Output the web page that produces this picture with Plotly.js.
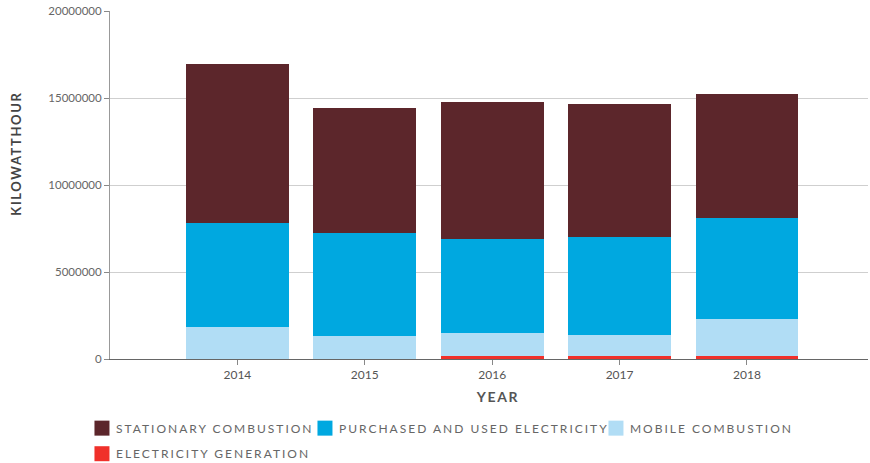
<!DOCTYPE html>
<html>
<head>
<meta charset="utf-8">
<script src="https://cdn.plot.ly/plotly-3.0.1.min.js"></script>
<style>
html,body{margin:0;padding:0;background:#fff;}
#chart{width:870px;height:463px;}
.infolayer text, text.legendtext{letter-spacing:2.0px;}
.legendpoints path{transform:translate(26px,0px) scale(1.25);}
.infolayer text.annotation-text{letter-spacing:1.6px;}
.infolayer .scrollbox, .infolayer g{clip-path:none !important;}
</style>
</head>
<body>
<div id="chart"></div>
<script>
const years = [2014, 2015, 2016, 2017, 2018];
const electricityGeneration = [0, 0, 190000, 190000, 190000];
const mobileCombustion = [1850000, 1340000, 1320000, 1200000, 2120000];
const purchasedElectricity = [5970000, 5900000, 5390000, 5630000, 5800000];
const stationaryCombustion = [9120000, 7180000, 7860000, 7630000, 7110000];

const seriesNames = ['ELECTRICITY GENERATION', 'MOBILE COMBUSTION', 'PURCHASED AND USED ELECTRICITY', 'STATIONARY COMBUSTION'];
const seriesValues = [electricityGeneration, mobileCombustion, purchasedElectricity, stationaryCombustion];
const seriesColors = ['#f0302a', '#b1ddf5', '#00a8e0', '#5c262b'];
const legendIds = ['legend4', 'legend3', 'legend2', 'legend'];
const yTicks = [0, 5000000, 10000000, 15000000, 20000000];

const traces = seriesNames.map((n, i) => ({
  type: 'bar',
  name: n,
  x: years,
  y: seriesValues[i],
  width: 0.807,
  legend: legendIds[i],
  marker: {color: seriesColors[i], line: {width: 0}},
  hoverinfo: 'x+y+name'
}));

function leg(x, y) {
  return {
    orientation: 'h',
    x: x, xanchor: 'left',
    y: y, yanchor: 'top',
    font: {size: 12, color: '#666'},
    bgcolor: 'rgba(0,0,0,0)',
    borderwidth: 0
  };
}

const layout = {
  width: 870,
  height: 463,
  barmode: 'stack',
  paper_bgcolor: '#fff',
  plot_bgcolor: '#fff',
  margin: {l: 110, r: 2, t: 11, b: 104, pad: 0, autoexpand: false},
  font: {family: 'Lato, "Open Sans", sans-serif', color: '#555', size: 12},
  xaxis: {
    range: [2013, 2018.95],
    tickvals: years,
    ticktext: years.map(String),
    ticks: 'outside',
    ticklen: 5,
    tickcolor: '#888',
    showgrid: false,
    showline: true,
    linecolor: '#666',
    linewidth: 1,
    zeroline: false,
    automargin: false,
    tickfont: {size: 12, color: '#555'}
  },
  yaxis: {
    range: [0, 20000000],
    tickvals: yTicks,
    tickformat: 'd',
    ticks: 'outside',
    ticklen: 5,
    tickcolor: '#888',
    showgrid: true,
    gridcolor: '#cfcfcf',
    gridwidth: 1,
    showline: true,
    linecolor: '#999',
    linewidth: 1,
    zeroline: false,
    automargin: false,
    tickfont: {size: 11.5, color: '#666'}
  },
  annotations: [
    {text: '<b>KILOWATTHOUR</b>', xref: 'paper', yref: 'paper', x: -0.124, y: 0.589,
     xanchor: 'center', yanchor: 'middle', textangle: -90, showarrow: false,
     font: {size: 13, color: '#444'}},
    {text: '<b>YEAR</b>', xref: 'paper', yref: 'paper', x: 0.5125, y: -0.109,
     xanchor: 'center', yanchor: 'middle', showarrow: false,
     font: {size: 14, color: '#555'}}
  ],
  legend: leg(-0.0449, -0.157),
  legend2: leg(0.2493, -0.157),
  legend3: leg(0.6332, -0.157),
  legend4: leg(-0.0449, -0.2305),
  bargap: 0.2,
  showlegend: true
};

Plotly.newPlot('chart', traces, layout, {displayModeBar: false, staticPlot: true});
</script>
</body>
</html>
